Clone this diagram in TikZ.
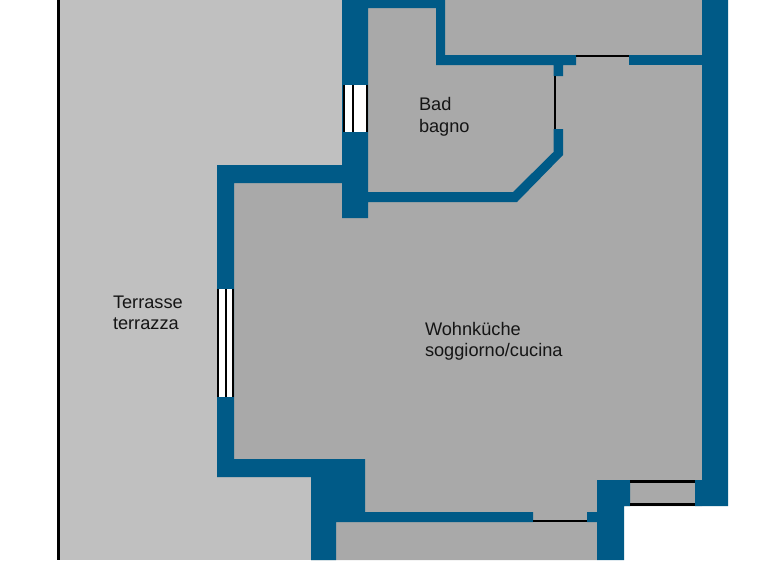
\documentclass[tikz,border=0pt]{standalone}
\usepackage{fontspec}
\setmainfont{Liberation Sans}
\definecolor{wallblue}{HTML}{005A87}
\definecolor{roomgrey}{HTML}{A9A9A9}
\definecolor{terracegrey}{HTML}{C0C0C0}
\definecolor{labeltext}{HTML}{151515}
\tikzset{
  wall/.style={fill=wallblue,draw=none},
  blackline/.style={draw=black,line width=2.8pt},
  thinline/.style={draw=black,line width=2pt},
  roomlabel/.style={anchor=base west,inner sep=0pt,outer sep=0pt,text=labeltext,font=\fontsize{18.2}{22}\selectfont}
}
\begin{document}
\begin{tikzpicture}[x=1pt,y=-1pt]
\useasboundingbox (0,0) rectangle (768,560);
% grounds
\fill[white] (0,0) rectangle (768,560);
\fill[terracegrey] (60,0) rectangle (345,560);
\fill[roomgrey] (342,0) -- (702,0) -- (702,506) -- (597,506) -- (597,560) -- (311,560) -- (311,477) -- (217,477) -- (217,165) -- (342,165) -- cycle;
\fill[black] (57,0) rectangle (60,560);
% walls
\fill[wall] (342,0) -- (445,0) -- (445,55) -- (576,55) -- (576,65) -- (563,65) -- (563,76) -- (553.5,76) -- (553.5,65) -- (436,65) -- (436,8) -- (368,8) -- (368,192) -- (513,192) -- (553.5,152) -- (553.5,129) -- (563,129) -- (563,155) -- (517,202) -- (368,202) -- (368,218) -- (342,218) -- (342,183) -- (234,183) -- (234,459) -- (365,459) -- (365,512) -- (533,512) -- (533,522) -- (336,522) -- (336,560) -- (311,560) -- (311,477) -- (217,477) -- (217,165) -- (342,165) -- cycle;
\fill[wall] (629,55) rectangle (702,65);
\fill[wall] (702,0) -- (728,0) -- (728,506) -- (695,506) -- (695,480) -- (702,480) -- cycle;
\fill[wall] (587,512) -- (597,512) -- (597,480) -- (630,480) -- (630,506) -- (624,506) -- (624,560) -- (597,560) -- (597,522) -- (587,522) -- cycle;
% bathroom window
\fill[white] (343,85) rectangle (367,132);
\draw[thinline] (343.5,85) -- (343.5,132);
\draw[thinline] (352.5,85) -- (352.5,132);
\draw[thinline] (367,85) -- (367,132);
% terrace window
\fill[white] (217,289) rectangle (233.5,397);
\draw[thinline] (217.8,289) -- (217.8,397);
\draw[blackline] (226,289) -- (226,397);
\draw[thinline] (233.2,289) -- (233.2,397);
% door lines
\draw[thinline] (554.5,76) -- (554.5,129);
\draw[thinline] (576,56) -- (629,56);
\draw[thinline] (533,521) -- (587,521);
\draw[blackline] (630,481.5) -- (695,481.5);
\draw[blackline] (630,504.5) -- (695,504.5);
% labels
\node[roomlabel] (bad) at (419,110) {Bad};
\node[roomlabel] (bagno) at (419,132) {bagno};
\node[roomlabel] (terrasse) at (113,308) {Terrasse};
\node[roomlabel] (terrazza) at (113,329.5) {terrazza};
\node[roomlabel] (wohn) at (425,335) {Wohnküche};
\node[roomlabel] (sogg) at (425,356) {soggiorno/cucina};
\end{tikzpicture}
\end{document}
